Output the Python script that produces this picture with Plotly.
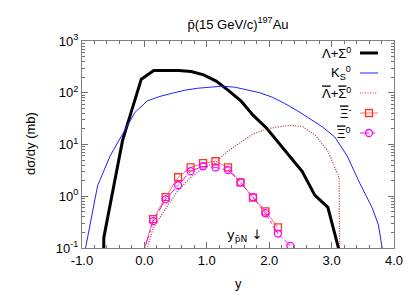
import plotly.graph_objects as go

# ---- data ----
lam_x = [-0.655, -0.65, -0.35, -0.05, 0.15, 0.55, 0.75, 0.95, 1.15, 1.35, 1.55, 1.74, 1.96, 2.22, 2.53, 2.73, 2.94, 3.12]
lam_y = [0.05, 0.16, 12, 183, 270, 270, 258, 222, 168, 110, 69, 37, 20.6, 8.5, 3.0, 1.05, 0.61, 0.09]

k0_x = [-0.95, -0.75, -0.55, -0.35, -0.15, 0.05, 0.25, 0.45, 0.65, 0.85, 1.05, 1.25, 1.45, 1.65,
        1.85, 2.05, 2.25, 2.45, 2.65, 2.85, 3.05, 3.25, 3.45, 3.65, 3.75, 3.81]
k0_y = [0.09, 1.6, 6.0, 16, 42, 70, 85, 98, 112, 122, 130, 134, 128, 115,
        100, 82, 62, 45, 32, 22, 14, 6, 1.8, 0.6, 0.28, 0.1]

alam_x = [0.04, 0.14, 0.34, 0.54, 0.74, 0.94, 1.14, 1.34, 1.54, 1.74, 1.94, 2.14, 2.34, 2.54, 2.74, 2.94, 3.12, 3.13]
alam_y = [0.095, 0.24, 0.58, 1.3, 2.3, 3.5, 4.5, 7.5, 11, 16, 19.5, 22, 23.5, 22, 15, 7.5, 2.3, 0.05]

xim_x = [-0.06, 0.14, 0.34, 0.54, 0.74, 0.94, 1.14, 1.34, 1.54, 1.74, 1.94, 2.14]
xim_y = [0.055, 0.36, 0.96, 2.33, 3.6, 4.35, 4.75, 3.6, 1.86, 0.94, 0.51, 0.25]

xi0_x = [-0.06, 0.14, 0.34, 0.54, 0.74, 0.94, 1.14, 1.34, 1.54, 1.74, 1.94, 2.14, 2.34]
xi0_y = [0.055, 0.33, 0.87, 1.63, 3.05, 3.8, 3.6, 3.2, 1.86, 0.96, 0.47, 0.19, 0.11]

x_ticks = [-1.0, 0.0, 1.0, 2.0, 3.0, 4.0]
x_ticktext = ["-1.0", "0.0", "1.0", "2.0", "3.0", "4.0"]
y_ticks = [0.1, 1, 10, 100, 1000]
y_ticktext = ["10<sup>-1</sup>", "10<sup>0</sup>", "10<sup>1</sup>", "10<sup>2</sup>", "10<sup>3</sup>"]

OV = "<span style='text-decoration:overline'>{}</span>"
names = ["Λ+Σ<sup>0</sup>", "K<sub>S</sub><sup>0</sup>",
         OV.format("Λ") + "+" + OV.format("Σ") + "<sup>0</sup>",
         OV.format("Ξ") + "<sup>-</sup>", OV.format("Ξ") + "<sup>0</sup>"]

BLACK = "#000000"
BLUE = "#2222ff"
BROWN = "#a83030"
RED = "#ff3030"
MAG = "#ff00ff"

fig = go.Figure()
fig.add_trace(go.Scatter(x=lam_x, y=lam_y, mode="lines", line=dict(color=BLACK, width=3), showlegend=False))
fig.add_trace(go.Scatter(x=k0_x, y=k0_y, mode="lines", line=dict(color=BLUE, width=1), showlegend=False))
fig.add_trace(go.Scatter(x=alam_x, y=alam_y, mode="lines", line=dict(color=BROWN, width=1.2, dash="1px,1.5px"), showlegend=False))
fig.add_trace(go.Scatter(x=xim_x, y=xim_y, mode="lines+markers", line=dict(color="#ff7070", width=1),
                         marker=dict(symbol="square-open", size=7, color=RED, line=dict(width=1.3)), showlegend=False))
fig.add_trace(go.Scatter(x=xi0_x, y=xi0_y, mode="lines+markers", line=dict(color=MAG, width=1, dash="dashdot"),
                         marker=dict(symbol="circle-open", size=7, color=MAG, line=dict(width=1.3)), showlegend=False))

W, H = 415, 291
L, R, T, B = 82, 21, 41, 43
pw, ph = W - L - R, H - T - B

def px2paper(px, py):
    return (px - L) / pw, (H - B - py) / ph

# manual legend (gnuplot style: text right, sample on the right)
leg_rows = [53, 73, 93, 113, 133]
leg_colors = [BLACK, BLUE, BROWN, "#ff7070", MAG]
leg_widths = [3, 1, 1.2, 1, 1]
leg_dash = ["solid", "solid", "1px,1.5px", "solid", "dashdot"]
shapes = []
annotations = []
for i, py in enumerate(leg_rows):
    x0, y0 = px2paper(360, py)
    x1, _ = px2paper(378, py)
    shapes.append(dict(type="line", xref="paper", yref="paper", x0=x0, x1=x1, y0=y0, y1=y0,
                       line=dict(color=leg_colors[i], width=leg_widths[i], dash=leg_dash[i])))
    tx, ty = px2paper(353, py)
    annotations.append(dict(text=names[i], xref="paper", yref="paper", x=tx, y=ty, xanchor="right",
                            yanchor="middle", showarrow=False, font=dict(size=13, color="black")))
mx, my = px2paper(369, leg_rows[3])
shapes.append(dict(type="rect", xref="paper", yref="paper", xsizemode="pixel", ysizemode="pixel",
                   xanchor=mx, yanchor=my, x0=-3.5, x1=3.5, y0=-3.5, y1=3.5, line=dict(color=RED, width=1.3)))
mx, my = px2paper(369, leg_rows[4])
shapes.append(dict(type="circle", xref="paper", yref="paper", xsizemode="pixel", ysizemode="pixel",
                   xanchor=mx, yanchor=my, x0=-3.5, x1=3.5, y0=-3.5, y1=3.5, line=dict(color=MAG, width=1.3)))

annotations.append(dict(text="y<sub>p̄N</sub> ↓", x=1.6, y=-0.754, xref="x", yref="y", showarrow=False,
                        font=dict(size=13, color="black", family="DejaVu Sans")))

# axis titles
ax, ay = px2paper(238, 283)
annotations.append(dict(text="y", xref="paper", yref="paper", x=ax, y=ay, xanchor="center", yanchor="middle",
                        showarrow=False, font=dict(size=13, color="black")))
ax, ay = px2paper(30, 144)
annotations.append(dict(text="dσ/dy (mb)", xref="paper", yref="paper", x=ax, y=ay, xanchor="center",
                        yanchor="middle", textangle=-90, showarrow=False, font=dict(size=13, color="black")))

minor_y = [m * 10 ** e for e in (-1, 0, 1, 2) for m in range(2, 10)]

fig.update_layout(
    width=W, height=H,
    margin=dict(l=L, r=R, t=T, b=B, autoexpand=False),
    paper_bgcolor="white", plot_bgcolor="white",
    font=dict(family="Liberation Sans, Arial, sans-serif", size=13, color="black"),
    title=dict(text="p̄(15 GeV/c)<sup>197</sup>Au", x=(L + pw / 2) / W, xanchor="center",
               y=1 - 24 / H, yanchor="middle", yref="container", font=dict(size=13)),
    shapes=shapes, annotations=annotations, showlegend=False,
    xaxis=dict(range=[-1, 4], tickvals=x_ticks, ticktext=x_ticktext, ticks="inside", ticklen=6,
               tickcolor="#707070", showline=True, linecolor="#808080", linewidth=1, mirror="ticks",
               showgrid=False, zeroline=False, automargin=False,
               minor=dict(dtick=0.2, ticks="inside", ticklen=3, tickcolor="#707070", showgrid=False)),
    yaxis=dict(type="log", range=[-1, 3], tickvals=y_ticks, ticktext=y_ticktext, ticks="inside", ticklen=6,
               tickcolor="#707070", showline=True, linecolor="#808080", linewidth=1, mirror="ticks",
               showgrid=False, zeroline=False, automargin=False,
               minor=dict(tickvals=minor_y, ticks="inside", ticklen=3, tickcolor="#707070", showgrid=False)),
)

fig.write_html("out.html", config={"displayModeBar": False},
               post_script="document.body.style.margin='0px';document.body.style.overflow='hidden';")
